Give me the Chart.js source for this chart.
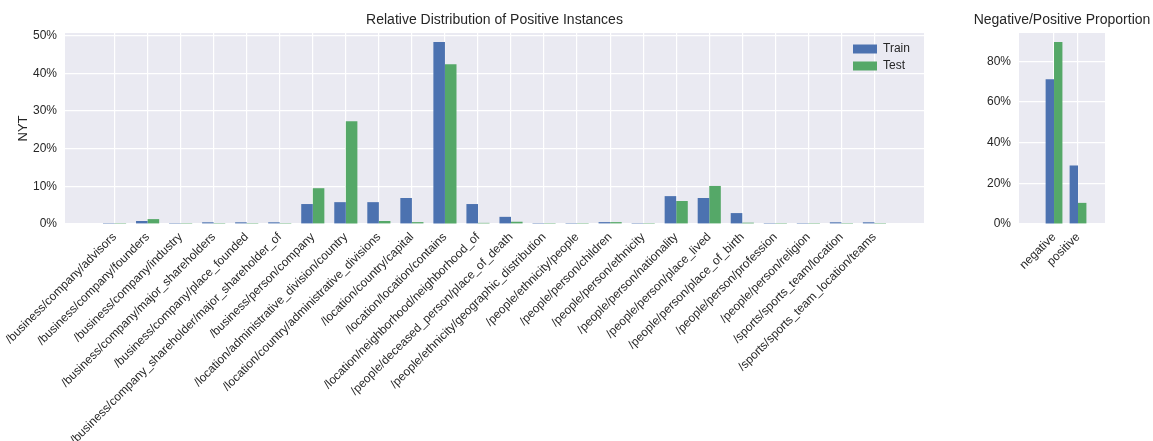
<!DOCTYPE html>
<html><head><meta charset="utf-8">
<script src="https://cdn.jsdelivr.net/npm/chart.js@4/dist/chart.umd.min.js"></script>
<style>
html,body{margin:0;padding:0;background:#fff;width:1153px;height:441px;overflow:hidden}
canvas{position:absolute;top:0}
#c1{left:0}
#c2{left:971px}
</style></head><body>
<canvas id="c1" width="960" height="441"></canvas>
<canvas id="c2" width="182" height="441"></canvas>
<script>
const relations = [
  '/business/company/advisors',
  '/business/company/founders',
  '/business/company/industry',
  '/business/company/major_shareholders',
  '/business/company/place_founded',
  '/business/company_shareholder/major_shareholder_of',
  '/business/person/company',
  '/location/administrative_division/country',
  '/location/country/administrative_divisions',
  '/location/country/capital',
  '/location/location/contains',
  '/location/neighborhood/neighborhood_of',
  '/people/deceased_person/place_of_death',
  '/people/ethnicity/geographic_distribution',
  '/people/ethnicity/people',
  '/people/person/children',
  '/people/person/ethnicity',
  '/people/person/nationality',
  '/people/person/place_lived',
  '/people/person/place_of_birth',
  '/people/person/profession',
  '/people/person/religion',
  '/sports/sports_team/location',
  '/sports/sports_team_location/teams'
];
const trainPct = [0.25, 0.8, 0.25, 0.45, 0.45, 0.45, 5.3, 5.8, 5.8, 6.9, 48.3, 5.3, 1.9, 0.25, 0.25, 0.5, 0.25, 7.4, 6.9, 2.9, 0.25, 0.25, 0.45, 0.45];
const testPct  = [0.25, 1.3, 0.25, 0.25, 0.25, 0.25, 9.5, 27.3, 0.8, 0.5, 42.4, 0.3, 0.6, 0.25, 0.25, 0.5, 0.25, 6.1, 10.1, 0.35, 0.25, 0.25, 0.25, 0.25];
const mainYTicks = [0, 10, 20, 30, 40, 50];

const propLabels = ['negative', 'positive'];
const propTrain = [71.2, 28.8];
const propTest = [89.6, 10.4];
const propYTicks = [0, 20, 40, 60, 80];

const FONT = "'Liberation Sans', Arial, sans-serif";
const TXT = '#262626';
const BLUE = '#4C72B0';
const GREEN = '#55A868';
Chart.defaults.font.family = FONT;
Chart.defaults.color = TXT;

const bgPlugin = {
  id: 'bg',
  beforeDraw(chart) {
    const {ctx, chartArea: a} = chart;
    ctx.save();
    ctx.fillStyle = '#EAEAF2';
    ctx.fillRect(a.left, a.top, a.right - a.left, a.bottom - a.top);
    ctx.restore();
  }
};
const legendPos = {
  id: 'legendPos',
  afterLayout(chart) {
    const l = chart.legend;
    if (!l || !l.options.display) return;
    const a = chart.chartArea;
    const w = l.width, h = l.height;
    l.left = a.right - 76;
    l.right = l.left + w;
    l.top = a.top + 5;
    l.bottom = l.top + h;
  }
};

const xGrid = {color: '#ffffff', lineWidth: 1.2, drawTicks: false, offset: false};
const yGrid = {color: '#ffffff', lineWidth: 1.2, drawTicks: false};

new Chart(document.getElementById('c1'), {
  type: 'bar',
  data: {
    datasets: [
      {label: 'Train', data: relations.map((r, i) => ({x: i, y: trainPct[i]})), backgroundColor: BLUE, minBarLength: 1},
      {label: 'Test', data: relations.map((r, i) => ({x: i, y: testPct[i]})), backgroundColor: GREEN, minBarLength: 1}
    ]
  },
  options: {
    responsive: false, animation: false, devicePixelRatio: 1,
    layout: {padding: {left: 0, right: 36, top: 0, bottom: 0}},
    categoryPercentage: 0.7, barPercentage: 1.0,
    scales: {
      x: {
        type: 'linear', min: -1.5, max: 24.5, offset: false,
        afterBuildTicks: s => { s.ticks = relations.map((r, i) => ({value: i})); },
        afterFit: s => { s.height = 217; s.paddingLeft = 0; s.paddingRight = 0; },
        grid: xGrid, border: {display: false},
        ticks: {autoSkip: false, maxRotation: 45, minRotation: 45, padding: 6, color: TXT,
          font: {size: 12}, callback: v => relations[v]}
      },
      y: {
        min: 0, max: 50.7,
        afterBuildTicks: s => { s.ticks = mainYTicks.map(v => ({value: v})); },
        afterFit: s => { s.width = 65; s.paddingTop = 0; s.paddingBottom = 0; },
        grid: yGrid, border: {display: false},
        ticks: {padding: 8, color: TXT, font: {size: 12}, callback: v => v + '%'},
        title: {display: true, text: 'NYT', color: TXT, font: {size: 13}, padding: {top: 16, bottom: 0}}
      }
    },
    plugins: {
      title: {display: true, text: 'Relative Distribution of Positive Instances', fullSize: false,
        color: TXT, font: {size: 14, weight: 'normal'}, padding: {top: 11.6, bottom: 4.6}},
      legend: {position: 'chartArea', align: 'start',
        labels: {boxWidth: 24, boxHeight: 9, padding: 5, color: TXT, font: {size: 12}}},
      tooltip: {enabled: false}
    }
  },
  plugins: [bgPlugin, legendPos]
});

new Chart(document.getElementById('c2'), {
  type: 'bar',
  data: {
    datasets: [
      {label: 'Train', data: propLabels.map((r, i) => ({x: i, y: propTrain[i]})), backgroundColor: BLUE},
      {label: 'Test', data: propLabels.map((r, i) => ({x: i, y: propTest[i]})), backgroundColor: GREEN}
    ]
  },
  options: {
    responsive: false, animation: false, devicePixelRatio: 1,
    layout: {padding: 0},
    categoryPercentage: 0.7, barPercentage: 1.0,
    scales: {
      x: {
        type: 'linear', min: -1.46, max: 2.125, offset: false,
        afterBuildTicks: s => { s.ticks = propLabels.map((r, i) => ({value: i})); },
        afterFit: s => { s.height = 217; s.paddingLeft = 0; s.paddingRight = 0; },
        grid: xGrid, border: {display: false},
        ticks: {autoSkip: false, maxRotation: 45, minRotation: 45, padding: 6, color: TXT,
          font: {size: 12}, callback: v => propLabels[v]}
      },
      y: {
        min: 0, max: 94,
        afterBuildTicks: s => { s.ticks = propYTicks.map(v => ({value: v})); },
        afterFit: s => { s.width = 48; s.paddingTop = 0; s.paddingBottom = 0; },
        grid: yGrid, border: {display: false},
        ticks: {padding: 8, color: TXT, font: {size: 12}, callback: v => v + '%'}
      },
      yR: {
        position: 'right', display: true, min: 0, max: 1,
        afterFit: s => { s.width = 48; s.paddingTop = 0; s.paddingBottom = 0; },
        grid: {display: false}, border: {display: false}, ticks: {display: false}
      }
    },
    plugins: {
      title: {display: true, text: 'Negative/Positive Proportion',
        color: TXT, font: {size: 14, weight: 'normal'}, padding: {top: 11.6, bottom: 4.6}},
      legend: {display: false},
      tooltip: {enabled: false}
    }
  },
  plugins: [bgPlugin]
});
</script>
</body></html>
